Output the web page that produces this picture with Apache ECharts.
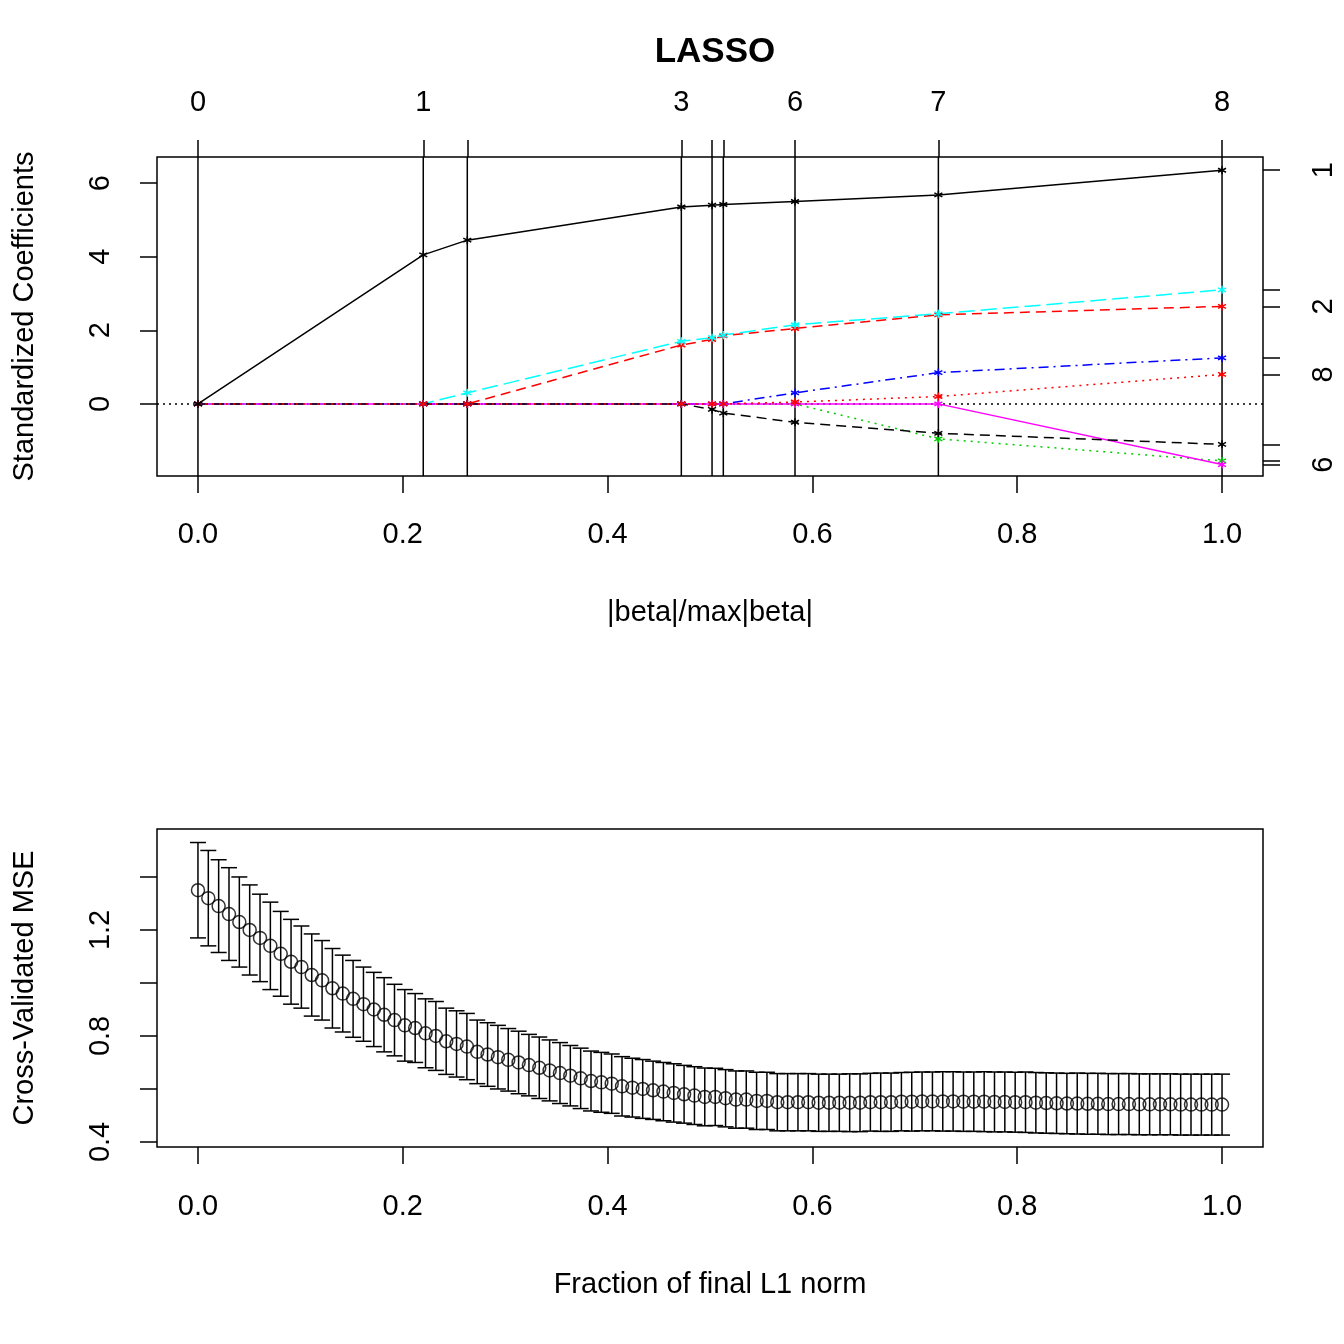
<!DOCTYPE html>
<html><head><meta charset="utf-8">
<script src="https://cdn.jsdelivr.net/npm/echarts@6/dist/echarts.min.js"></script>
<style>html,body{margin:0;background:#fff}#c{width:1344px;height:1344px}</style>
</head><body><div id="c"></div>
<script>
// breakpoints of the lars path (|beta|/max|beta|)
const steps = [0, 0.22, 0.263, 0.472, 0.502, 0.513, 0.583, 0.723, 1.0];
const stepLabels = ['0', '1', '', '3', '', '', '6', '7', '8'];
// coefficients of each variable at each breakpoint
const coef1 = [0, 4.05, 4.45, 5.35, 5.4, 5.42, 5.5, 5.68, 6.35];
const coef2 = [0, 0, 0, 1.6, 1.75, 1.85, 2.05, 2.42, 2.65];
const coef3 = [0, 0, 0, 0, 0, 0, 0, -0.95, -1.55];
const coef4 = [0, 0, 0, 0, 0, 0, 0.3, 0.85, 1.25];
const coef5 = [0, 0, 0.3, 1.7, 1.8, 1.87, 2.15, 2.45, 3.1];
const coef6 = [0, 0, 0, 0, 0, 0, 0, 0, -1.65];
const coef7 = [0, 0, 0, 0, -0.15, -0.25, -0.5, -0.8, -1.1];
const coef8 = [0, 0, 0, 0, 0, 0, 0.05, 0.2, 0.8];
const rightLabels = {1: '1', 2: '2', 8: '8', 6: '6'};

// cross validation
const cvMean = [1.35,1.32,1.29,1.26,1.23,1.20,1.17,1.14,1.11,1.08,
  1.06,1.03,1.01,0.98,0.96,0.94,0.92,0.90,0.88,0.86,
  0.84,0.83,0.81,0.80,0.78,0.77,0.76,0.74,0.73,0.72,
  0.71,0.70,0.69,0.68,0.67,0.66,0.65,0.64,0.63,0.625,
  0.62,0.61,0.605,0.60,0.595,0.59,0.585,0.58,0.575,0.57,
  0.57,0.565,0.56,0.56,0.555,0.555,0.55,0.55,0.55,0.55,
  0.548,0.548,0.548,0.548,0.548,0.55,0.55,0.55,0.552,0.552,
  0.553,0.553,0.553,0.553,0.552,0.552,0.552,0.551,0.551,0.55,
  0.55,0.548,0.547,0.546,0.545,0.545,0.544,0.544,0.543,0.543,
  0.543,0.542,0.542,0.542,0.542,0.541,0.541,0.541,0.541,0.541];
const cvErr = [0.18,0.18,0.175,0.175,0.17,0.17,0.165,0.165,0.16,0.16,
  0.155,0.155,0.15,0.15,0.145,0.145,0.14,0.14,0.14,0.135,
  0.135,0.13,0.13,0.13,0.125,0.125,0.125,0.12,0.12,0.12,
  0.118,0.118,0.116,0.116,0.115,0.115,0.114,0.114,0.113,0.113,
  0.112,0.112,0.111,0.111,0.110,0.110,0.110,0.109,0.109,0.109,
  0.108,0.108,0.108,0.108,0.108,0.108,0.108,0.108,0.108,0.108,
  0.108,0.108,0.108,0.109,0.109,0.109,0.110,0.110,0.110,0.111,
  0.111,0.111,0.112,0.112,0.112,0.112,0.113,0.113,0.113,0.113,
  0.114,0.114,0.114,0.114,0.114,0.115,0.115,0.115,0.115,0.115,
  0.115,0.115,0.115,0.115,0.115,0.115,0.115,0.115,0.115,0.115];
const cvX = [0,0.0101,0.0202,0.0303,0.0404,0.0505,0.0606,0.0707,0.0808,0.0909,
  0.101,0.1111,0.1212,0.1313,0.1414,0.1515,0.1616,0.1717,0.1818,0.1919,
  0.202,0.2121,0.2222,0.2323,0.2424,0.2525,0.2626,0.2727,0.2828,0.2929,
  0.303,0.3131,0.3232,0.3333,0.3434,0.3535,0.3636,0.3737,0.3838,0.3939,
  0.404,0.4141,0.4242,0.4343,0.4444,0.4545,0.4646,0.4747,0.4848,0.4949,
  0.5051,0.5152,0.5253,0.5354,0.5455,0.5556,0.5657,0.5758,0.5859,0.596,
  0.6061,0.6162,0.6263,0.6364,0.6465,0.6566,0.6667,0.6768,0.6869,0.697,
  0.7071,0.7172,0.7273,0.7374,0.7475,0.7576,0.7677,0.7778,0.7879,0.798,
  0.8081,0.8182,0.8283,0.8384,0.8485,0.8586,0.8687,0.8788,0.8889,0.899,
  0.9091,0.9192,0.9293,0.9394,0.9495,0.9596,0.9697,0.9798,0.9899,1];

const FONT = 'Liberation Sans';
const star = 'path://M0,-1L0,1M-0.87,-0.5L0.87,0.5M-0.87,0.5L0.87,-0.5';
const vars = [
  {d: coef1, c: '#000000', t: 'solid'},
  {d: coef2, c: '#ff0000', t: [10, 6]},
  {d: coef3, c: '#00cd00', t: [2, 5]},
  {d: coef4, c: '#0000ff', t: [2, 5, 10, 5]},
  {d: coef5, c: '#00ffff', t: [16, 6]},
  {d: coef6, c: '#ff00ff', t: 'solid'},
  {d: coef7, c: '#000000', t: [10, 6]},
  {d: coef8, c: '#ff0000', t: [2, 5]}
];
const finals = vars.map(v => v.d[v.d.length - 1]);
const tick = {show: true, inside: false, length: 17, lineStyle: {color: '#000', width: 1.5}};
const lab = {color: '#000', fontSize: 29, fontFamily: FONT};
const noLine = {show: false, onZero: false};

const chart = echarts.init(document.getElementById('c'));
const series = [];
vars.forEach((v, i) => {
  series.push({
    type: 'line', xAxisIndex: 0, yAxisIndex: 0, data: steps.map((s, k) => [s, v.d[k]]),
    symbol: star, symbolSize: 8, showSymbol: true,
    itemStyle: {color: v.c, borderColor: v.c, borderWidth: 1.5},
    lineStyle: {color: v.c, width: 1.5, type: v.t}, z: 3 + (i === 0 ? 1 : 0)
  });
});
// zero reference line
series.push({type: 'line', xAxisIndex: 0, yAxisIndex: 0, data: [[-0.04, 0], [1.04, 0]],
  symbol: 'none', lineStyle: {color: '#000', width: 1.5, type: [2, 4]}, z: 2});
// vertical lines at breakpoints
series.push({type: 'custom', xAxisIndex: 0, yAxisIndex: 0, data: steps,
  renderItem: (p, api) => {
    const a = api.coord([api.value(0), 6.71]), b = api.coord([api.value(0), -1.96]);
    return {type: 'line', shape: {x1: a[0], y1: a[1], x2: b[0], y2: b[1]},
      style: {stroke: '#000', lineWidth: 1.5}};
  }, z: 1});
series.push({type: 'line', xAxisIndex: 0, yAxisIndex: 1, data: [], symbol: 'none'});
// CV error bars
series.push({type: 'custom', xAxisIndex: 2, yAxisIndex: 2,
  data: cvX.map((x, i) => [x, cvMean[i] - cvErr[i], cvMean[i] + cvErr[i]]),
  renderItem: (p, api) => {
    const lo = api.coord([api.value(0), api.value(1)]), hi = api.coord([api.value(0), api.value(2)]);
    const w = 8, st = {stroke: '#000', lineWidth: 1.5};
    return {type: 'group', children: [
      {type: 'line', shape: {x1: lo[0], y1: lo[1], x2: hi[0], y2: hi[1]}, style: st},
      {type: 'line', shape: {x1: lo[0] - w, y1: lo[1], x2: lo[0] + w, y2: lo[1]}, style: st},
      {type: 'line', shape: {x1: hi[0] - w, y1: hi[1], x2: hi[0] + w, y2: hi[1]}, style: st}
    ]};
  }});
series.push({type: 'scatter', xAxisIndex: 2, yAxisIndex: 2, data: cvX.map((x, i) => [x, cvMean[i]]),
  symbol: 'circle', symbolSize: 13, itemStyle: {color: 'rgba(255,255,255,0)', borderColor: '#000', borderWidth: 1.5}, z: 5});

const xt = [0, 0.2, 0.4, 0.6, 0.8, 1];
chart.setOption({
  animation: false,
  backgroundColor: '#fff',
  title: {text: 'LASSO', left: 710, top: 30, textAlign: 'center',
    textStyle: {fontSize: 35, fontWeight: 'bold', fontFamily: FONT, color: '#000'}},
  grid: [
    {left: 157, width: 1106, top: 157, height: 319, show: true, borderColor: '#000', borderWidth: 1.5},
    {left: 157, width: 1106, top: 829, height: 318, show: true, borderColor: '#000', borderWidth: 1.5}
  ],
  xAxis: [
    {gridIndex: 0, type: 'value', min: -0.04, max: 1.04, position: 'bottom',
      axisLine: noLine, splitLine: {show: false},
      axisTick: Object.assign({customValues: xt}, tick),
      axisLabel: Object.assign({customValues: xt, margin: 44, formatter: v => v.toFixed(1)}, lab),
      name: '|beta|/max|beta|', nameLocation: 'middle', nameGap: 122, nameTextStyle: lab},
    {gridIndex: 0, type: 'value', min: -0.04, max: 1.04, position: 'top',
      axisLine: noLine, splitLine: {show: false},
      axisTick: Object.assign({customValues: steps}, tick),
      axisLabel: Object.assign({customValues: steps, margin: 40,
        formatter: v => stepLabels[steps.indexOf(v)] || ''}, lab)},
    {gridIndex: 1, type: 'value', min: -0.04, max: 1.04,
      axisLine: noLine, splitLine: {show: false},
      axisTick: Object.assign({customValues: xt}, tick),
      axisLabel: Object.assign({customValues: xt, margin: 45, formatter: v => v.toFixed(1)}, lab),
      name: 'Fraction of final L1 norm', nameLocation: 'middle', nameGap: 123, nameTextStyle: lab}
  ],
  yAxis: [
    {gridIndex: 0, type: 'value', min: -1.96, max: 6.71,
      axisLine: noLine, splitLine: {show: false},
      axisTick: Object.assign({customValues: [0, 2, 4, 6]}, tick),
      axisLabel: Object.assign({customValues: [0, 2, 4, 6], rotate: 90, margin: 42}, lab),
      name: 'Standardized Coefficients', nameLocation: 'middle', nameGap: 118, nameRotate: 90,
      nameTextStyle: lab},
    {gridIndex: 0, type: 'value', min: -1.96, max: 6.71, position: 'right',
      axisLine: noLine, splitLine: {show: false},
      axisTick: Object.assign({customValues: finals}, tick),
      axisLabel: Object.assign({customValues: finals, rotate: 90, margin: 46,
        formatter: v => rightLabels[finals.indexOf(v) + 1] || ''}, lab)},
    {gridIndex: 1, type: 'value', min: 0.381, max: 1.581,
      axisLine: noLine, splitLine: {show: false},
      axisTick: Object.assign({customValues: [0.4, 0.6, 0.8, 1.0, 1.2, 1.4]}, tick),
      axisLabel: Object.assign({customValues: [0.4, 0.8, 1.2], rotate: 90, margin: 42,
        formatter: v => v.toFixed(1)}, lab),
      name: 'Cross-Validated MSE', nameLocation: 'middle', nameGap: 118, nameRotate: 90,
      nameTextStyle: lab}
  ],
  series: series
});
</script></body></html>
